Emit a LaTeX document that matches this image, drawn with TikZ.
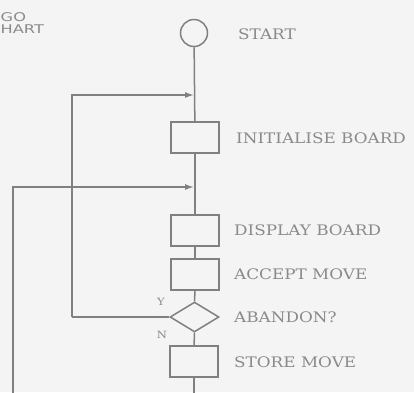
\documentclass[tikz,border=0pt]{standalone}
\usepackage{fontspec}
\setmainfont{DejaVu Serif}
\newfontfamily\labelfont[FakeStretch=1.16]{DejaVu Serif}
\newfontfamily\titlefont[FakeStretch=1.35]{DejaVu Sans}
\usetikzlibrary{shapes.geometric,arrows.meta}

\definecolor{paper}{HTML}{F4F4F4}
\definecolor{ink}{HTML}{808080}
\definecolor{print}{HTML}{8A8A8A}

\tikzset{
    step box/.style={draw=ink, line width=1.5pt, minimum width=48pt, minimum height=31pt, inner sep=0pt},
    test box/.style={diamond, draw=ink, line width=1.5pt, minimum width=49pt, minimum height=30pt, inner sep=0pt},
    caption/.style={anchor=west, text=print, font=\labelfont\fontsize{14.5}{16}\selectfont, inner sep=0pt},
    mark label/.style={text=print, font=\labelfont\fontsize{10}{10}\selectfont, inner sep=0pt},
    head label/.style={anchor=base west, text=print, font=\titlefont\fontsize{12}{12}\selectfont, inner sep=0pt},
    flow/.style={draw=ink, line width=1.5pt},
    back/.style={flow, -{Latex[length=9pt,width=6pt]}}
}

\begin{document}
\begin{tikzpicture}[x=1pt,y=-1pt]
        \fill[paper] (0,0) rectangle (414,392);
        \useasboundingbox (0,0) rectangle (414,392);

        \node[head label] (title1) at (0.5, 21.5) {GO};
        \node[head label] (title2) at (0.5, 33) {HART};

        \node[circle, draw=ink, line width=1.5pt, minimum size=27pt, inner sep=0pt] (start) at (194, 33) {};
        \node[step box] (init) at (195, 137.5) {};
        \node[step box] (show) at (195, 230.5) {};
        \node[step box] (accept) at (195, 274.5) {};
        \node[test box] (abandon) at (194.5, 317) {};
        \node[step box] (store) at (194, 361.5) {};

        \node[caption] (tstart) at (238, 34.5) {START};
        \node[caption] (tinit) at (236, 138.5) {INITIALISE BOARD};
        \node[caption] (tshow) at (234, 230) {DISPLAY BOARD};
        \node[caption] (taccept) at (234, 274) {ACCEPT MOVE};
        \node[caption] (tabandon) at (234, 317) {ABANDON?};
        \node[caption] (tstore) at (234, 362) {STORE MOVE};

        \node[mark label] (yes) at (161, 302) {Y};
        \node[mark label] (no) at (162, 335) {N};

        \coordinate (j1) at (194, 95);
        \coordinate (j2) at (194, 187);
        \coordinate (bottom) at (194, 394);
        \coordinate (outer) at (13, 394);
        \coordinate (inner) at (72, 317);

        \draw[flow] (start) -- (init);
        \draw[flow] (init) -- (show);
        \draw[flow] (show) -- (accept);
        \draw[flow] (accept) -- (abandon);
        \draw[flow] (abandon) -- (store);
        \draw[flow] (store) -- (bottom);

        \draw[flow] (abandon.west) -- (inner);
        \draw[back] (inner) |- (j1);
        \draw[back] (outer) |- (j2);

    \end{tikzpicture}
\end{document}
